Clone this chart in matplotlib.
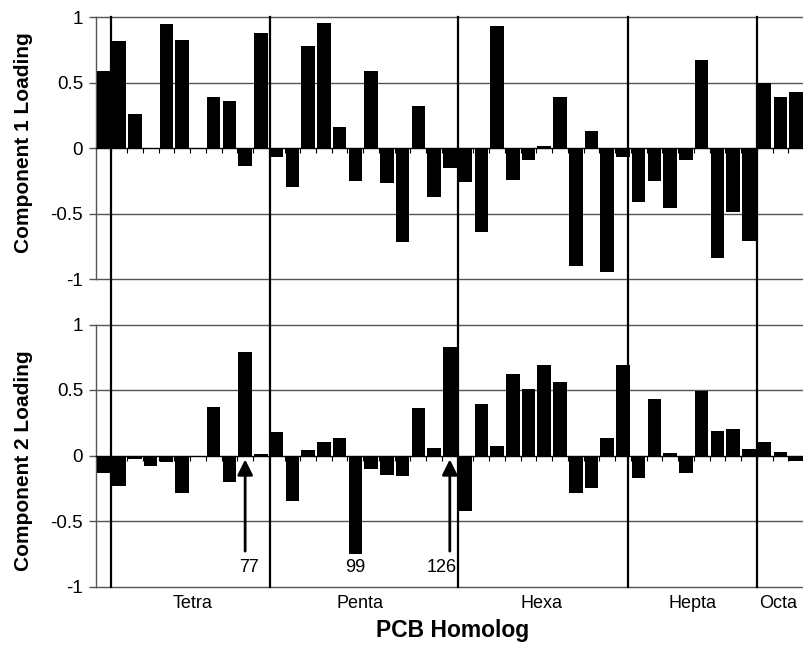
import matplotlib
matplotlib.use('Agg')
import matplotlib.pyplot as plt
import matplotlib.transforms as mtransforms
import numpy as np

plt.rcParams['font.family'] = ['Liberation Sans', 'DejaVu Sans']

# Loadings, one value per congener (left to right).

comp1 = [0.59, 0.82, 0.26, 0.0, 0.95, 0.83, 0.0, 0.39, 0.36, -0.14,
         0.88, -0.07, -0.30, 0.78, 0.96, 0.16, -0.25, 0.59, -0.27, -0.72,
         0.32, -0.37, -0.15, -0.26, -0.64, 0.93, -0.24, -0.09, 0.02, 0.39,
         -0.90, 0.13, -0.95, -0.07, -0.41, -0.25, -0.46, -0.09, 0.67, -0.84,
         -0.49, -0.71, 0.50, 0.39, 0.43]
comp2 = [-0.13, -0.23, -0.03, -0.08, -0.05, -0.29, 0.0, 0.37, -0.20, 0.79,
         0.01, 0.18, -0.35, 0.04, 0.10, 0.13, -0.75, -0.10, -0.15, -0.16,
         0.36, 0.06, 0.83, -0.42, 0.39, 0.07, 0.62, 0.51, 0.69, 0.56,
         -0.29, -0.25, 0.13, 0.69, -0.17, 0.43, 0.02, -0.13, 0.49, 0.19,
         0.20, 0.05, 0.10, 0.03, -0.04]

homologs = ['Tetra', 'Penta', 'Hexa', 'Hepta', 'Octa']
homolog_x = [5.64, 16.3, 27.84, 37.43, 42.85]
separators = [0.5, 10.6, 22.5, 33.3, 41.5]

marked = ['77', '99', '126']
marked_idx = [9, 16, 22]
marked_text_x = [9.25, 16.0, 21.5]
arrowed = [9, 22]

yticks = [-1, -0.5, 0, 0.5, 1]
yticklabels = ['-1', '-0.5', '0', '0.5', '1']

W, H = 804, 645
fig = plt.figure(figsize=(W / 100, H / 100), dpi=100)

x = np.arange(len(comp1))
left = 95.6 / W
width = 1 - left
ax1 = fig.add_axes([left, 1 - 279 / H, width, 261.7 / H])
ax2 = fig.add_axes([left, 1 - 586.5 / H, width, 262 / H])

grid_col = '#555555'
for ax, vals in ((ax1, comp1), (ax2, comp2)):
    ax.bar(x, vals, width=0.86, color='black', zorder=3)
    ax.set_xlim(-0.5, 44.17)
    ax.set_ylim(-1, 1)
    ax.set_yticks(yticks)
    ax.set_yticklabels(yticklabels)
    for y in yticks:
        if y != 0:
            ax.axhline(y, color=grid_col, lw=1, zorder=1, clip_on=False)
    for s in ('top', 'right'):
        ax.spines[s].set_visible(False)
    ax.spines['left'].set_color(grid_col)
    ax.spines['left'].set_linewidth(1)
    ax.spines['bottom'].set_position(('data', 0))
    ax.spines['bottom'].set_color('black')
    ax.spines['bottom'].set_linewidth(1)
    ax.spines['bottom'].set_zorder(4)
    ax.set_xticks(x + 0.5)
    ax.set_xticklabels([])
    ax.tick_params(axis='x', direction='out', length=3.5, width=0.8, color='black')
    ax.tick_params(axis='y', direction='out', length=5, width=1, color=grid_col,
                   labelsize=13.5, pad=4)

ax1.set_ylabel('Component 1 Loading', fontsize=15, fontweight='bold')
ax1.yaxis.set_label_coords(-0.088, 0.523)
ax2.set_ylabel('Component 2 Loading', fontsize=15, fontweight='bold')
ax2.yaxis.set_label_coords(-0.088, 0.479)

# Homolog separators run through both panels.
trans = mtransforms.blended_transform_factory(ax1.transData, fig.transFigure)
for sx in separators:
    fig.add_artist(plt.Line2D([sx, sx], [1 - 17 / H, 1 - 587 / H],
                              transform=trans, color='black', lw=1.6, zorder=5))

# Homolog names under the lower panel.
for name, hx in zip(homologs, homolog_x):
    fig.text(hx, 1 - 604 / H, name, transform=trans, ha='center', va='center',
             fontsize=13)

fig.text(453 / W, 1 - 630 / H, 'PCB Homolog', ha='center', va='center',
         fontsize=16.5, fontweight='bold')

# Marked congeners.
for lab, i, tx in zip(marked, marked_idx, marked_text_x):
    ax2.text(tx, -0.855, lab, ha='center', va='center', fontsize=13)
    if i in arrowed:
        ax2.annotate('', xy=(i, -0.03), xytext=(i, -0.73),
                     arrowprops=dict(arrowstyle='-|>,head_length=0.4,head_width=0.2',
                                     mutation_scale=23, lw=2, color='black',
                                     shrinkA=0, shrinkB=0), zorder=6)

fig.savefig('out.png', dpi=100)
